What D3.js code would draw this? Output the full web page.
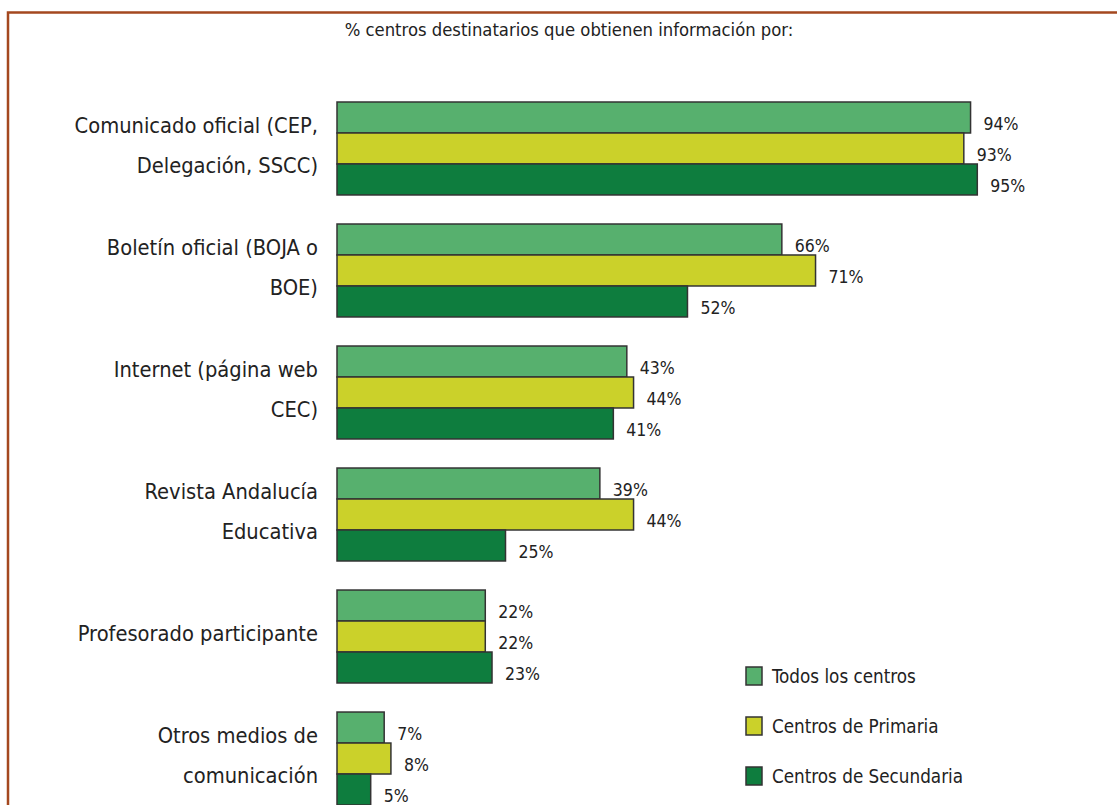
<!DOCTYPE html>
<meta charset="utf-8">
<script src="https://d3js.org/d3.v7.min.js"></script>
<style>
  body { margin: 0; background: #fff; }
  text { font-family: "Liberation Sans Narrow", "DejaVu Sans Condensed", "Arial Narrow", sans-serif; fill: #222; }
</style>
<svg width="1117" height="805"></svg>
<script>
// categories (each split in the lines shown on the chart)
var categories = [
  ["Comunicado oficial (CEP,", "Delegación, SSCC)"],
  ["Boletín oficial (BOJA o", "BOE)"],
  ["Internet (página web", "CEC)"],
  ["Revista Andalucía", "Educativa"],
  ["Profesorado participante"],
  ["Otros medios de", "comunicación"]
];
var series = ["Todos los centros", "Centros de Primaria", "Centros de Secundaria"];
var todos      = [94, 66, 43, 39, 22, 7];
var primaria   = [93, 71, 44, 44, 22, 8];
var secundaria = [95, 52, 41, 25, 23, 5];
var title = "% centros destinatarios que obtienen información por:";

var svg = d3.select("svg");
var colors = d3.scaleOrdinal().domain(series).range(["#57b06e", "#cbd12a", "#0e7d3e"]);

// brown frame (only top and left visible)
svg.append("path")
    .attr("d", "M8,805 V12.5 H1117")
    .attr("fill", "none")
    .attr("stroke", "#a4481f")
    .attr("stroke-width", 2.5);

svg.append("text")
    .attr("x", 569)
    .attr("y", 30)
    .attr("dy", "0.35em")
    .attr("text-anchor", "middle")
    .style("font-size", "18.3px")
    .text(title);

var idx = d3.range(categories.length);
var y0 = d3.scaleBand().domain(idx).range([102, 805]).paddingInner(0.238).paddingOuter(0);
var y1 = d3.scaleBand().domain(series).range([0, y0.bandwidth()]);
var x = d3.scaleLinear().domain([0, 100]).range([337, 1011]);

var data = idx.map(function (i) {
  return { i: i, label: categories[i], values: [
    { key: series[0], value: todos[i] },
    { key: series[1], value: primaria[i] },
    { key: series[2], value: secundaria[i] }
  ] };
});

var group = svg.append("g").selectAll("g")
    .data(data)
    .enter().append("g")
    .attr("transform", function (d) { return "translate(0," + y0(d.i) + ")"; });

group.selectAll("rect")
    .data(function (d) { return d.values; })
    .enter().append("rect")
    .attr("x", x(0))
    .attr("y", function (d) { return y1(d.key); })
    .attr("width", function (d) { return x(d.value) - x(0); })
    .attr("height", y1.bandwidth())
    .attr("fill", function (d) { return colors(d.key); })
    .attr("stroke", "#333")
    .attr("stroke-width", 1.5);

group.selectAll("text.val")
    .data(function (d) { return d.values; })
    .enter().append("text")
    .attr("class", "val")
    .attr("x", function (d) { return x(d.value) + 13; })
    .attr("y", function (d) { return y1(d.key) + y1.bandwidth() / 2 + 6; })
    .attr("dy", "0.35em")
    .style("font-size", "17.5px")
    .text(function (d) { return d.value + "%"; });

// category labels, right aligned
group.append("text")
    .attr("text-anchor", "end")
    .style("font-size", "21.7px")
    .each(function (d) {
      var t = d3.select(this);
      var n = d.label.length;
      d.label.forEach(function (line, k) {
        t.append("tspan")
          .attr("x", 318)
          .attr("y", y0.bandwidth() / 2 - 3 + (k - (n - 1) / 2) * 40)
          .attr("dy", "0.35em")
          .text(line);
      });
    });

// legend
var legend = svg.append("g").selectAll("g")
    .data(series)
    .enter().append("g")
    .attr("transform", function (d, i) { return "translate(746," + (667 + i * 50) + ")"; });

legend.append("rect")
    .attr("width", 16)
    .attr("height", 18)
    .attr("fill", colors)
    .attr("stroke", "#333")
    .attr("stroke-width", 1.5);

legend.append("text")
    .attr("x", 26)
    .attr("y", 9)
    .attr("dy", "0.35em")
    .style("font-size", "18.7px")
    .text(function (d) { return d; });
</script>
